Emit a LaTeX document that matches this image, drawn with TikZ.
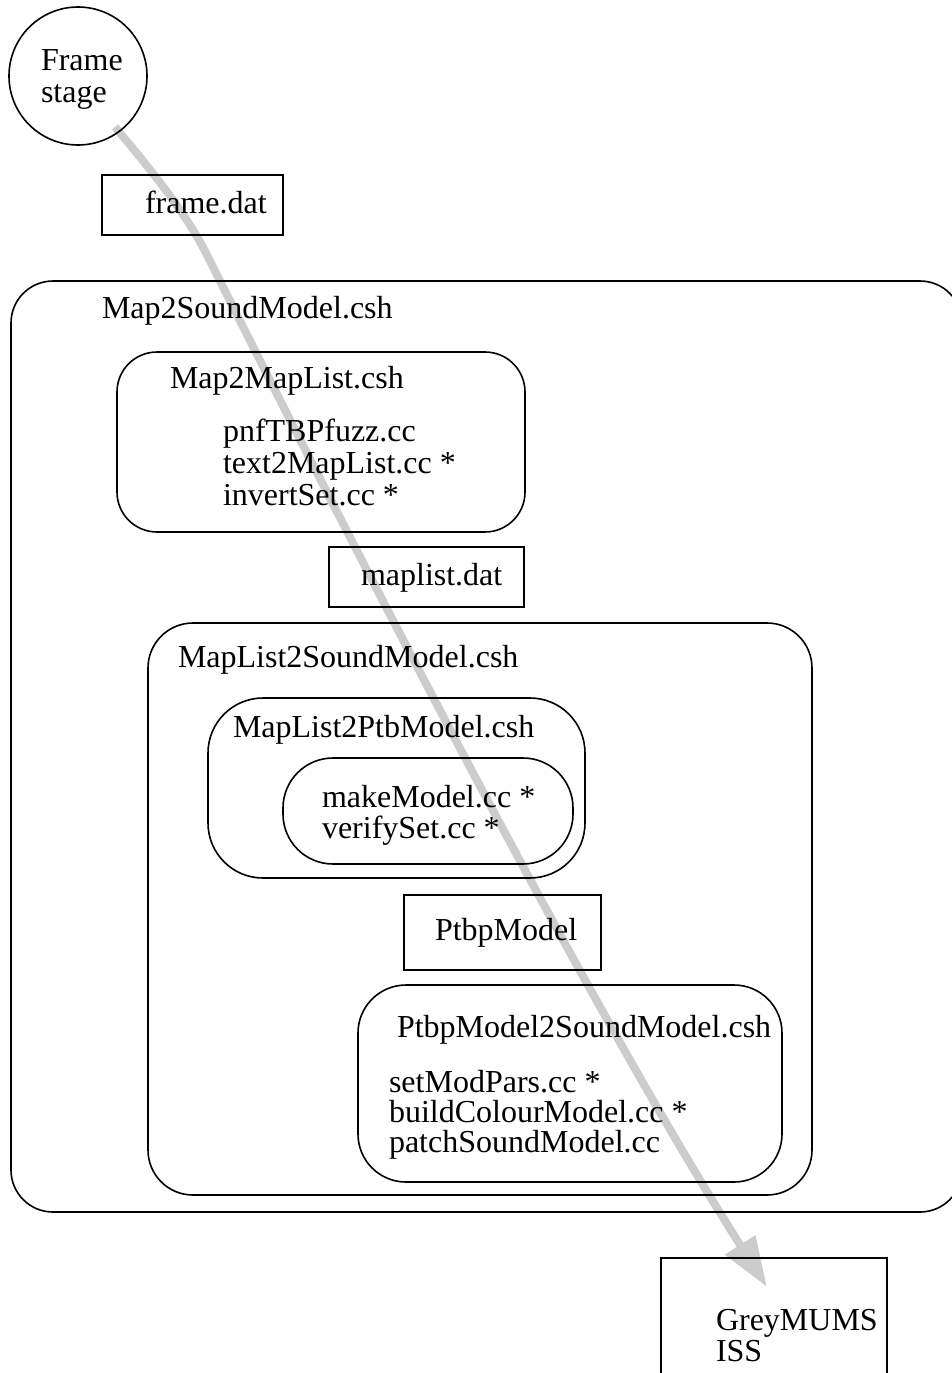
\documentclass[tikz,border=0pt]{standalone}
\usepackage{fontspec}
\setmainfont{Liberation Serif}
\usetikzlibrary{arrows.meta}
\pgfdeclarelayer{background}
\pgfsetlayers{background,main}
\begin{document}
\begin{tikzpicture}[x=1pt,y=-1pt,
  every node/.style={inner sep=0pt, outer sep=0pt},
  txt/.style={anchor=base west, font=\fontsize{32}{32}\selectfont},
  boxnode/.style={draw=black, line width=1.6pt, rectangle, anchor=north west},
  roundnode/.style={boxnode, rounded corners=#1},
  flow/.style={draw=black!20, line width=8pt,
    -{Triangle[width=34pt,length=50pt]}}
]
\useasboundingbox (0,0) rectangle (952,1373);
\clip (0,0) rectangle (952,1373);

% start of the process
\node[draw=black, line width=1.6pt, circle, minimum size=138pt] (frame) at (78,76) {};
\node[txt] (frameA) at (41,70) {Frame};
\node[txt] (frameB) at (41,102) {stage};

% data file
\node[boxnode, minimum width=181pt, minimum height=60pt] (framedat) at (102,175) {};
\node[txt] (framedatT) at (145,213) {frame.dat};

% outer script
\node[roundnode=42pt, minimum width=951pt, minimum height=931pt] (m2sm) at (11,281) {};
\node[txt] (m2smT) at (102,318) {Map2SoundModel.csh};

% first stage script
\node[roundnode=40pt, minimum width=408pt, minimum height=180pt] (m2ml) at (117,352) {};
\node[txt] (m2mlT) at (170,388) {Map2MapList.csh};
\node[txt] (m2mlA) at (223,441) {pnfTBPfuzz.cc};
\node[txt] (m2mlB) at (223,473) {text2MapList.cc *};
\node[txt] (m2mlC) at (223,505) {invertSet.cc *};

\node[boxnode, minimum width=195pt, minimum height=60pt] (mldat) at (329,547) {};
\node[txt] (mldatT) at (361,585) {maplist.dat};

% second stage script
\node[roundnode=45pt, minimum width=664pt, minimum height=572pt] (ml2sm) at (148,623) {};
\node[txt] (ml2smT) at (178,667) {MapList2SoundModel.csh};

\node[roundnode=55pt, minimum width=377pt, minimum height=180pt] (ml2pm) at (208,698) {};
\node[txt] (ml2pmT) at (233,737) {MapList2PtbModel.csh};

\node[roundnode=50pt, minimum width=290pt, minimum height=106pt] (mm) at (283,758) {};
\node[txt] (mmA) at (322,807) {makeModel.cc *};
\node[txt] (mmB) at (322,838) {verifySet.cc *};

\node[boxnode, minimum width=197pt, minimum height=75pt] (ptbp) at (404,895) {};
\node[txt] (ptbpT) at (435,940) {PtbpModel};

\node[roundnode=48pt, minimum width=424pt, minimum height=197pt] (p2sm) at (358,985) {};
\node[txt] (p2smT) at (397,1037) {PtbpModel2SoundModel.csh};
\node[txt] (p2smA) at (389,1092) {setModPars.cc *};
\node[txt] (p2smB) at (389,1122) {buildColourModel.cc *};
\node[txt] (p2smC) at (389,1152) {patchSoundModel.cc};

% final target
\node[boxnode, minimum width=226pt, minimum height=200pt] (grey) at (661,1258) {};
\node[txt] (greyA) at (716,1330) {GreyMUMS};
\node[txt] (greyB) at (716,1361) {ISS};

% overall data flow, drawn behind everything
\coordinate (flowStart) at (115,127);
\coordinate (flowBend) at (207,255);
\coordinate (flowEnd) at (767,1287);
\begin{pgfonlayer}{background}
\draw[flow] (flowStart) .. controls (153,172) and (187,215) .. (flowBend)
  .. controls (327,495) and (582,997) .. (flowEnd);
\end{pgfonlayer}
\end{tikzpicture}
\end{document}
